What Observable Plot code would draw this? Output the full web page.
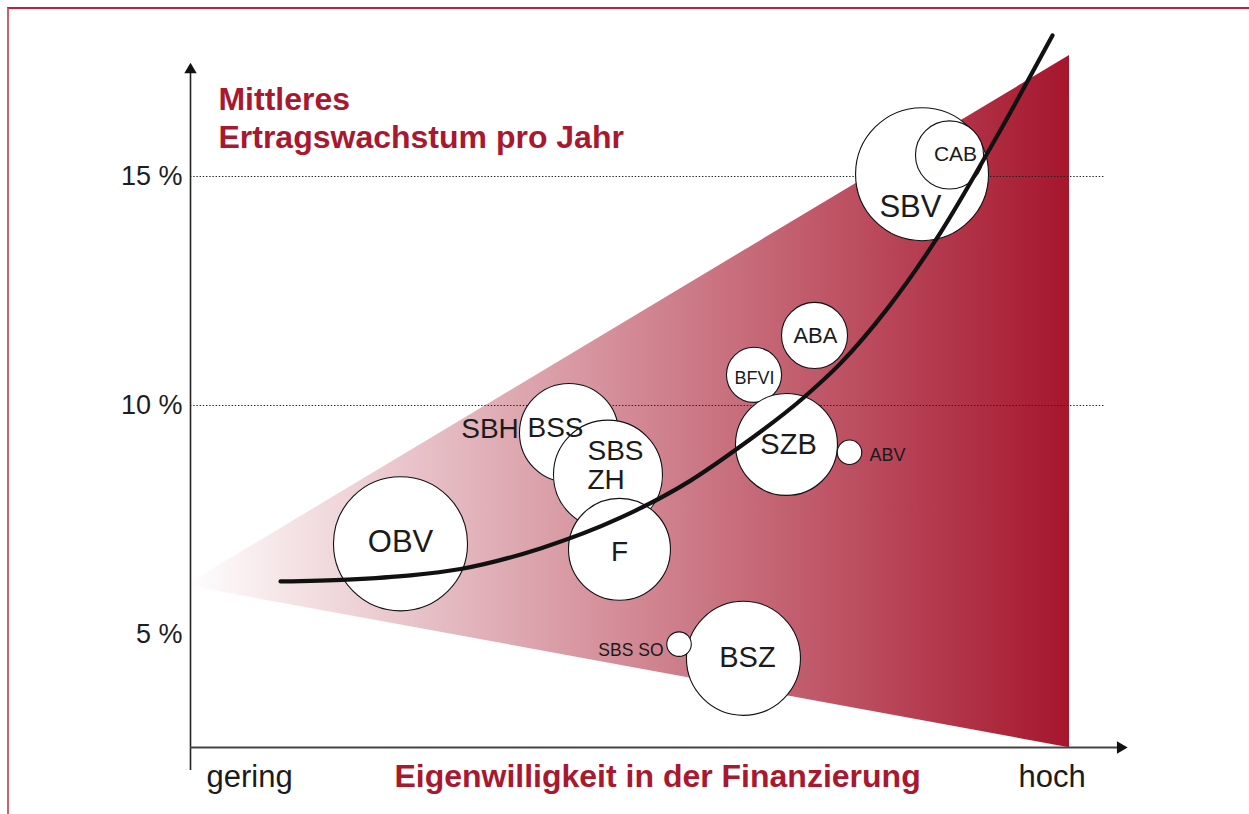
<!DOCTYPE html>
<html>
<head>
<meta charset="utf-8">
<script src="https://cdn.jsdelivr.net/npm/d3@7"></script>
<script src="https://cdn.jsdelivr.net/npm/@observablehq/plot@0.6"></script>
<style>
html, body { margin: 0; padding: 0; background: #fff; overflow: hidden; }
#chart { position: absolute; left: 0; top: 0; }
#frame { position: absolute; left: 7px; top: 7px; width: 1400px; height: 1000px;
  border-left: 2px solid #cc5f70; border-top: 2px solid #b8243c; pointer-events: none; }
</style>
</head>
<body>
<div id="chart"></div>
<div id="frame"></div>
<script>
// ---- data ----
const bubbleNames = ["OBV", "BSS", "SBS ZH", "F", "BFVI", "ABA", "SZB", "ABV", "SBV", "CAB", "BSZ", "SBS SO"];
const bubbleX     = [22.46, 40.48, 44.65, 45.88, 60.27, 66.74, 63.74, 70.48, 78.24, 81.18, 59.14, 52.25];
const bubbleY     = [6.98, 9.40, 8.49, 6.86, 10.67, 11.53, 9.15, 8.98, 15.05, 15.47, 4.48, 4.79];
const bubbleSize  = [44.9, 24.5, 29.7, 26.0, 7.6, 10.9, 26.0, 1.5, 44.2, 11.6, 32.5, 1.5];

const labelText = ["OBV", "SBV", "CAB", "ABA", "BFVI", "SZB", "ABV", "SBH", "BSS", "SBS\nZH", "F", "BSZ", "SBS SO"];
const labelX    = [22.46, 77.0, 81.82, 66.84, 60.32, 63.96, 72.62, 32.03, 39.04, 42.46, 45.88, 59.57, 50.59];
const labelY    = [7.03, 14.34, 15.50, 11.53, 10.61, 9.15, 8.91, 9.50, 9.52, 8.70, 6.81, 4.50, 4.66];

const curveX = [9.63, 16.79, 23.53, 28.88, 37.43, 45.99, 53.48, 58.50, 65.56, 69.52, 74.55, 79.89, 86.42, 92.19];
const curveY = [6.16, 6.20, 6.29, 6.43, 6.88, 7.55, 8.36, 9.06, 10.17, 10.92, 12.12, 13.67, 15.94, 18.08];

const wedgeX    = [-0.53, 94.01];
const wedgeLow  = [6.07, 2.53];
const wedgeHigh = [6.07, 17.64];

const yTicks = [5, 10, 15];
const gridLines = [10, 15];

const titleText = "Mittleres\nErtragswachstum pro Jahr";
const xTitleText = "Eigenwilligkeit in der Finanzierung";
const xLowText = "gering";
const xHighText = "hoch";

// ---- styles ----
const crimson = "#a8182f";
const labelStyle = {
  "OBV": {size: 31, anchor: "middle"}, "SBV": {size: 31, anchor: "middle"},
  "CAB": {size: 21, anchor: "middle"}, "ABA": {size: 22, anchor: "middle"},
  "BFVI": {size: 18, anchor: "middle"}, "SZB": {size: 29, anchor: "middle"},
  "ABV": {size: 18, anchor: "start"}, "SBH": {size: 28, anchor: "middle"},
  "BSS": {size: 28, anchor: "middle"}, "SBS\nZH": {size: 28, anchor: "start"},
  "F": {size: 28, anchor: "middle"}, "BSZ": {size: 29, anchor: "middle"},
  "SBS SO": {size: 17.5, anchor: "end"}
};

const bubbles = bubbleNames.map((n, i) => ({name: n, x: bubbleX[i], y: bubbleY[i], size: bubbleSize[i]}));
const labels = labelText.map((t, i) => ({text: t, x: labelX[i], y: labelY[i]}));
const curveRows = curveX.map((x, i) => ({x, y: curveY[i]}));
const wedgeRows = wedgeX.map((x, i) => ({x, lo: wedgeLow[i], hi: wedgeHigh[i]}));

const font = "'Liberation Sans', Arial, Helvetica, sans-serif";

const textMarks = ["start", "middle", "end"].map(anchor =>
  Plot.text(labels.filter(d => labelStyle[d.text].anchor === anchor), {
    x: "x", y: "y", text: "text", textAnchor: anchor,
    fontSize: d => labelStyle[d.text].size, lineHeight: 1.05,
    fill: "#1b1b1b"
  })
);

const chart = Plot.plot({
  width: 1249, height: 814,
  marginLeft: 190, marginRight: 124, marginTop: 62, marginBottom: 67,
  x: {domain: [0, 100], axis: null, label: null},
  y: {domain: [2.533, 17.489], axis: null, label: null},
  r: {type: "sqrt", domain: [0, 100], range: [0, 100]},
  style: {fontFamily: font, background: "transparent", overflow: "visible"},
  marks: [
    Plot.areaY(wedgeRows, {x: "x", y1: "lo", y2: "hi", fill: "url(#wedgeGrad)"}),
    Plot.ruleY(gridLines, {x1: 0, x2: 97.86, stroke: "#222", strokeWidth: 1.2, strokeDasharray: "1.4,1.8"}),
    Plot.ruleX([0], {y1: 2.03, y2: 17.3, stroke: "#222", strokeWidth: 1.6}),
    Plot.ruleY([2.533], {x1: 0, x2: 99.3, stroke: "#444", strokeWidth: 2}),
    Plot.dot([{x: 0, y: 17.33}], {x: "x", y: "y", symbol: "triangle", r: 4.6, fill: "#111", stroke: null}),
    Plot.dot([{x: 99.47, y: 2.533}], {x: "x", y: "y", symbol: "triangle", r: 4.6, fill: "#111", stroke: null, rotate: 90}),
    Plot.axisY({ticks: yTicks, tickFormat: d => `${d} %`, tickSize: 0, tickPadding: 8, fontSize: 27, label: null, color: "#1e1e1e"}),
    Plot.dot(bubbles, {x: "x", y: "y", r: "size", fill: "white", stroke: "#111", strokeWidth: 1.1, sort: null}),
    Plot.line(curveRows, {x: "x", y: "y", curve: "monotone-x", stroke: "#111", strokeWidth: 4.2}),
    ...textMarks,
    Plot.text([titleText], {x: 2.99, y: 15.633, text: d => d, textAnchor: "start", lineAnchor: "bottom",
      fontSize: 32, fontWeight: "bold", fill: crimson, lineHeight: 1.16}),
    Plot.text([xTitleText], {x: 49.95, y: 1.66, text: d => d, textAnchor: "middle", lineAnchor: "bottom",
      fontSize: 32, fontWeight: "bold", fill: crimson}),
    Plot.text([xLowText], {x: 1.71, y: 1.66, text: d => d, textAnchor: "start", lineAnchor: "bottom",
      fontSize: 31, fill: "#1b1b1b"}),
    Plot.text([xHighText], {x: 88.56, y: 1.66, text: d => d, textAnchor: "start", lineAnchor: "bottom",
      fontSize: 31, fill: "#1b1b1b"})
  ]
});

// gradient definition for the wedge
const ns = "http://www.w3.org/2000/svg";
const defs = document.createElementNS(ns, "defs");
const grad = document.createElementNS(ns, "linearGradient");
grad.setAttribute("id", "wedgeGrad");
grad.setAttribute("x1", "0"); grad.setAttribute("x2", "1");
grad.setAttribute("y1", "0"); grad.setAttribute("y2", "0");
[["0%", "#ffffff"], ["100%", "#a6162d"]].forEach(([o, c]) => {
  const s = document.createElementNS(ns, "stop");
  s.setAttribute("offset", o); s.setAttribute("stop-color", c);
  grad.appendChild(s);
});
defs.appendChild(grad);
chart.insertBefore(defs, chart.firstChild);

document.getElementById("chart").appendChild(chart);
</script>
</body>
</html>
